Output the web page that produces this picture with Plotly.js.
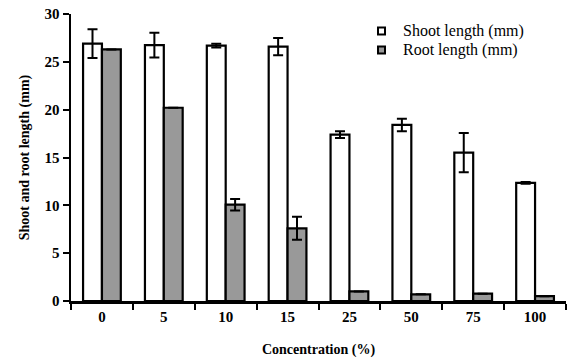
<!DOCTYPE html>
<html>
<head>
<meta charset="utf-8">
<script src="https://cdn.plot.ly/plotly-3.0.1.min.js"></script>
<style>html,body{margin:0;padding:0;background:#fff;}#chart{width:568px;height:358px;}</style>
</head>
<body>
<div id="chart"></div>
<script>
var categories = ["0", "5", "10", "15", "25", "50", "75", "100"];
var shootLength = [26.9, 26.75, 26.7, 26.6, 17.4, 18.4, 15.5, 12.35];
var shootError = [1.5, 1.3, 0.2, 0.9, 0.35, 0.65, 2.05, 0.1];
var rootLength = [26.3, 20.2, 10.07, 7.6, 1.0, 0.7, 0.77, 0.5];
var rootError = [0, 0, 0.6, 1.2, 0, 0, 0, 0];
var yTicks = [0, 5, 10, 15, 20, 25, 30];
var seriesNames = ["Shoot length (mm)", "Root length (mm)"];
var seriesColors = ["#ffffff", "#999999"];

var serif = "Liberation Serif, Times New Roman, serif";
var traces = [
  {
    type: "bar", name: seriesNames[0], x: categories, y: shootLength,
    marker: {color: seriesColors[0], line: {color: "#000000", width: 2.2}},
    error_y: {type: "data", array: shootError, visible: true, color: "#000000", thickness: 2, width: 5}
  },
  {
    type: "bar", name: seriesNames[1], x: categories, y: rootLength,
    marker: {color: seriesColors[1], line: {color: "#000000", width: 2.2}},
    error_y: {type: "data", array: rootError, visible: true, color: "#000000", thickness: 2, width: 5}
  }
];

// custom legend (small squares + text), placed in paper coordinates
var ml = 71, mr = 2, mt = 14, mb = 57, W = 568, H = 358;
var pw = W - ml - mr, ph = H - mt - mb;
function px(x) { return (x - ml) / pw; }
function py(y) { return (H - mb - y) / ph; }
var legendRows = [31, 50];
var shapes = [], annotations = [];
seriesNames.forEach(function (nm, i) {
  var cy = legendRows[i];
  shapes.push({type: "rect", xref: "paper", yref: "paper",
    x0: px(378), x1: px(385), y0: py(cy - 3.5), y1: py(cy + 3.5),
    fillcolor: seriesColors[i], line: {color: "#000", width: 2}});
  annotations.push({xref: "paper", yref: "paper", x: px(401), y: py(cy),
    xanchor: "left", yanchor: "middle", showarrow: false, text: nm,
    font: {family: serif, size: 16, color: "#000"}});
});

var layout = {
  width: W, height: H,
  margin: {l: ml, r: mr, t: mt, b: mb},
  paper_bgcolor: "#ffffff", plot_bgcolor: "#ffffff",
  barmode: "group", bargap: 0.39, bargroupgap: 0,
  showlegend: false,
  shapes: shapes, annotations: annotations,
  xaxis: {
    type: "category", range: [-0.5, 7.5], tickson: "boundaries",
    ticks: "outside", ticklen: 6, tickwidth: 2, tickcolor: "#000",
    showline: true, linecolor: "#000", linewidth: 2.5, showgrid: false, zeroline: false,
    tickfont: {family: serif, size: 15, color: "#000", weight: "bold"},
    title: {text: "Concentration (%)", font: {family: serif, size: 14, color: "#000", weight: "bold"}, standoff: 22}
  },
  yaxis: {
    range: [0, 30], tickvals: yTicks, ticktext: yTicks.map(String),
    ticks: "outside", ticklen: 6, tickwidth: 2, tickcolor: "#000",
    showline: true, linecolor: "#000", linewidth: 2.5, showgrid: false, zeroline: false,
    tickfont: {family: serif, size: 15, color: "#000", weight: "bold"},
    title: {text: "Shoot and root length (mm)", font: {family: serif, size: 14, color: "#000", weight: "bold"}, standoff: 12}
  }
};
Plotly.newPlot("chart", traces, layout, {displayModeBar: false, staticPlot: true});
</script>
</body>
</html>
